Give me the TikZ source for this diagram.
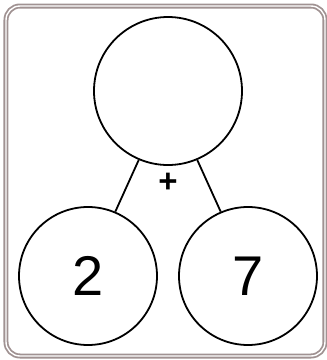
\documentclass[tikz,border=0pt]{standalone}
\usepackage{fontspec}
\setmainfont{Liberation Sans}
\definecolor{framegray}{RGB}{160,146,146}

\begin{document}
\begin{tikzpicture}
[
	x=1pt,y=-1pt,
	wholecirc/.style={circle,draw,line width=1.8pt,inner sep=0pt,minimum size=148pt},
	partcirc/.style={circle,draw,line width=1.8pt,inner sep=0pt,minimum size=138pt,font=\fontsize{56}{56}\selectfont},
	bond/.style={line width=1.8pt},
	plussign/.style={inner sep=0pt,font=\fontsize{33}{33}\selectfont\bfseries}
]
	\useasboundingbox (0,0) rectangle (327,360);

	% frame
	\draw[framegray,line width=1.8pt,double=white,double distance=1.4pt,rounded corners=14pt] (6,6) rectangle (325,356);

	% circles
	\node[wholecirc] at (168,91) (sum) {};
	\node[partcirc] at (88,276) (partA) {2};
	\node[partcirc] at (248,276) (partB) {7};

	\draw[bond] (sum.247) -- (partA.67);
	\draw[bond] (sum.293) -- (partB.113);

	\node[plussign] at (168,183) (plus) {+};

\end{tikzpicture}
\end{document}
